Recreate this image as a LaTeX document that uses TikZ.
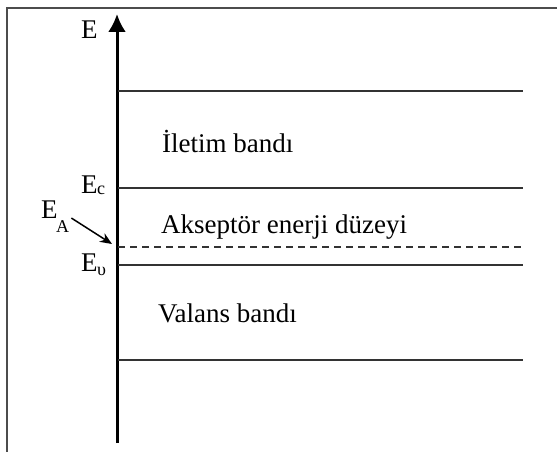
\documentclass[tikz,border=0pt]{standalone}
\usepackage{fontspec}
\setmainfont{Liberation Serif}
\usetikzlibrary{arrows.meta}
\begin{document}
\begin{tikzpicture}[x=1pt,y=-1pt,
  frameline/.style={line width=2pt,draw=black!70},
  bandline/.style={line width=1.8pt,draw=black!80},
  lbl/.style={inner sep=0pt,anchor=base west,font=\fontsize{27}{30}\selectfont},
  sublbl/.style={inner sep=0pt,anchor=base west,font=\fontsize{18}{19}\selectfont}]
\useasboundingbox (0,0) rectangle (557,452);
% page frame (top and left edges only)
\draw[frameline] (7,452) -- (7,8) -- (557,8);
% energy axis
\coordinate (axb) at (117,443);
\coordinate (axt) at (117,14);
\draw[line width=3pt,-{Latex[length=18pt,width=18pt]}] (axb) -- (axt);
\node[lbl] (E) at (81,39) {E};
% band edges
\coordinate (top0) at (118,91);   \coordinate (top1) at (523,91);
\coordinate (ec0) at (118,188);   \coordinate (ec1) at (523,188);
\coordinate (ea0) at (118,247);   \coordinate (ea1) at (524,247);
\coordinate (ev0) at (118,265);   \coordinate (ev1) at (523,265);
\coordinate (bot0) at (118,360);  \coordinate (bot1) at (523,360);
\draw[bandline] (top0) -- (top1);
\draw[bandline] (ec0) -- (ec1);
\draw[line width=1.8pt,draw=black!80,dash pattern=on 7pt off 5pt] (ea0) -- (ea1);
\draw[bandline] (ev0) -- (ev1);
\draw[bandline] (bot0) -- (bot1);
% band labels
\node[lbl] (ilet) at (162,152) {İletim bandı};
\node[lbl] (aks) at (161,233) {Akseptör enerji düzeyi};
\node[lbl] (val) at (158,322) {Valans bandı};
% level labels
\node[lbl] (Ec) at (81,193) {E};
\node[sublbl] (Ecs) at (97,194) {c};
\node[lbl] (Ev) at (81,271) {E};
\node[sublbl] (Evs) at (97,275) {υ};
\node[lbl] (EA) at (41,218) {E};
\node[sublbl] (EAs) at (56,232) {A};
\coordinate (eatip) at (112,244);
\draw[line width=1.5pt,-{Stealth[length=12pt,width=10pt]}] (EAs.east) ++(2,-8) -- (eatip);
\end{tikzpicture}
\end{document}
